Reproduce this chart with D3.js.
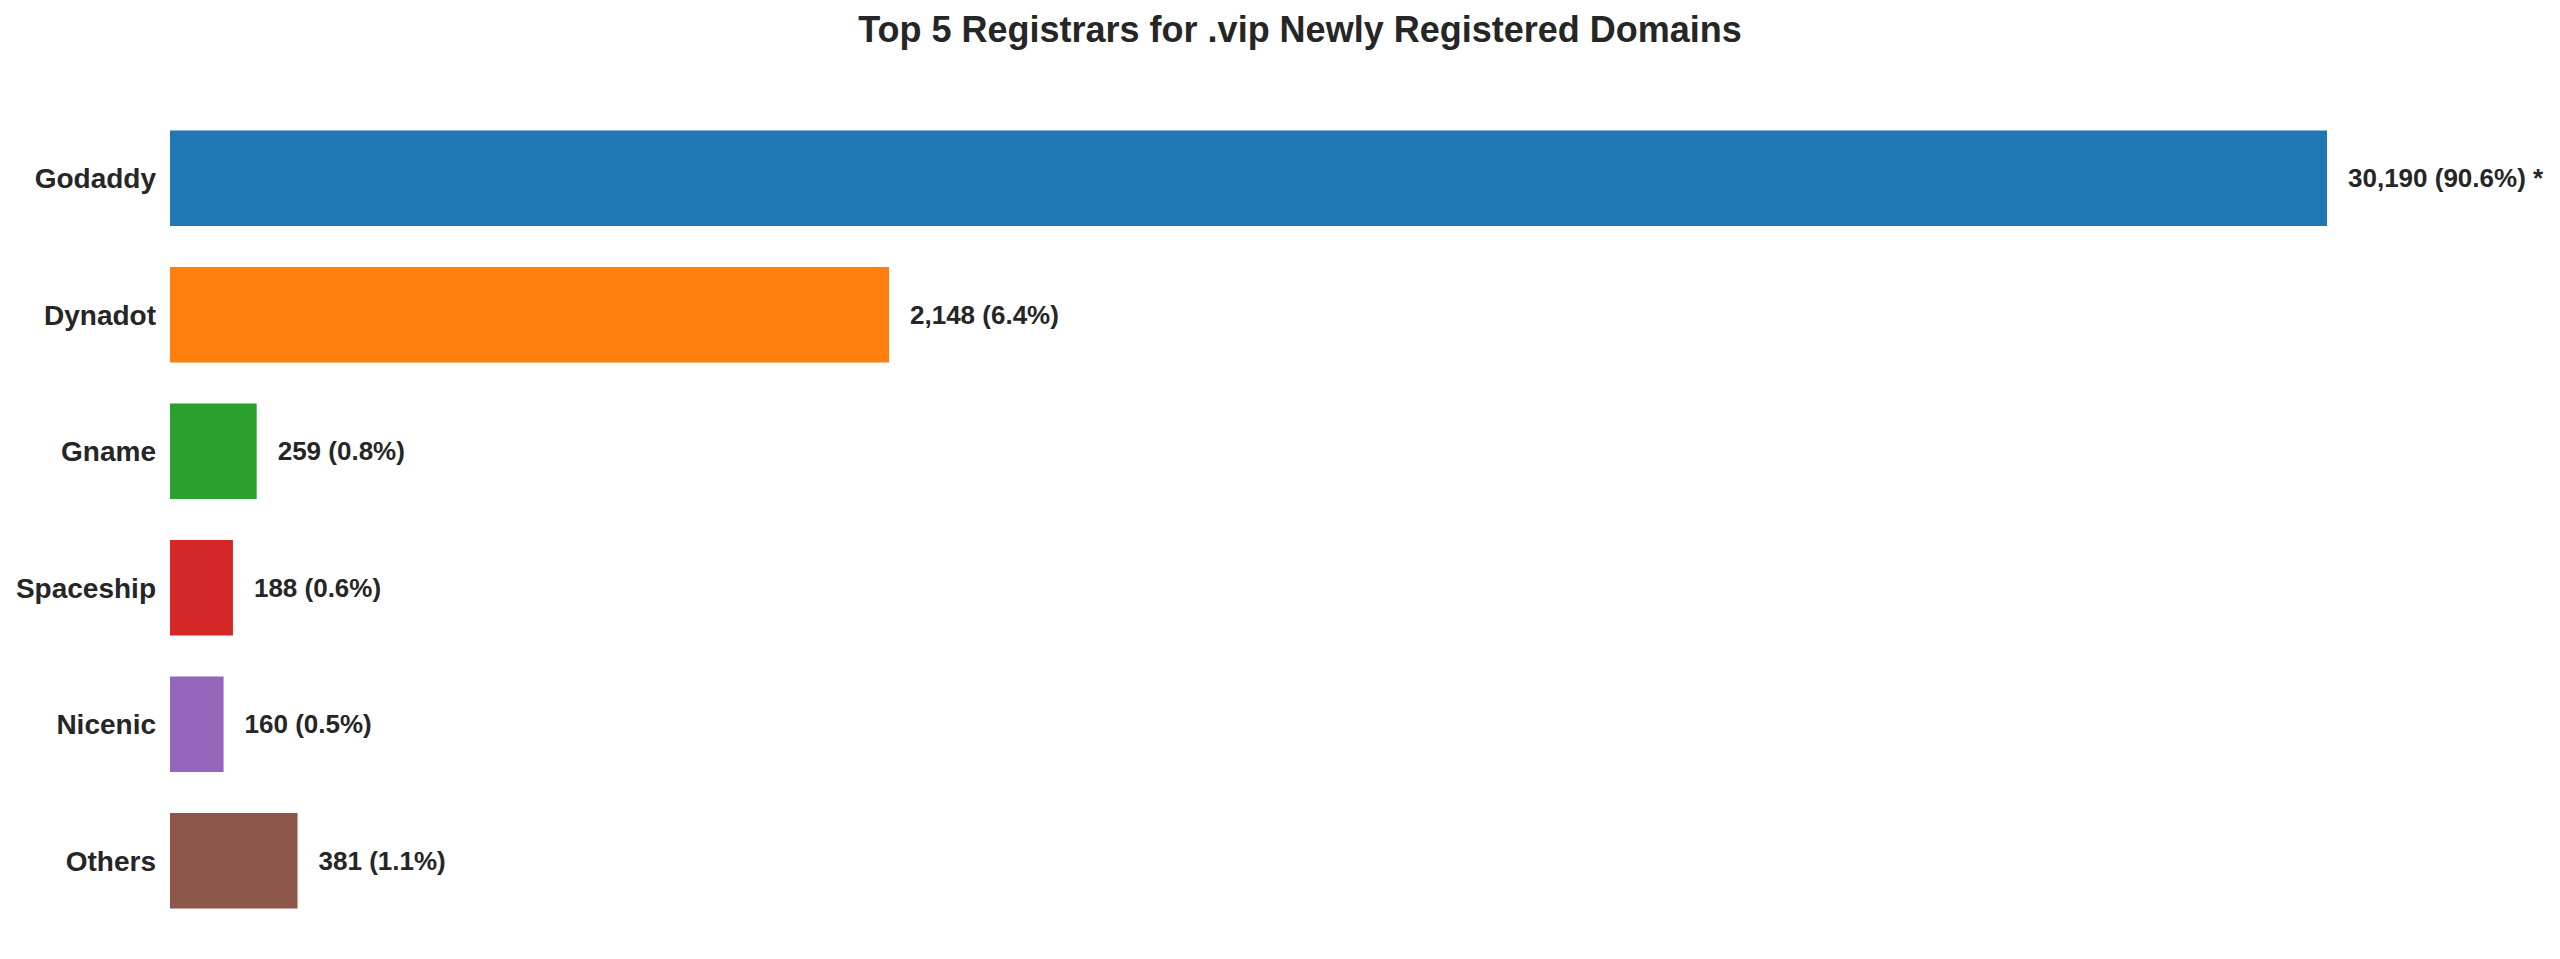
<!DOCTYPE html>
<html><head><meta charset="utf-8">
<script src="https://cdn.jsdelivr.net/npm/d3@7"></script>
<style>body{margin:0;background:#fff}text{font-family:"Liberation Sans",Arial,sans-serif;font-weight:bold;fill:#262626}</style>
</head><body><svg id="c" width="2560" height="959"></svg>
<script>
var registrars = ["Godaddy", "Dynadot", "Gname", "Spaceship", "Nicenic", "Others"];
var counts = [30190, 2148, 259, 188, 160, 381];
var shares = ["90.6%", "6.4%", "0.8%", "0.6%", "0.5%", "1.1%"];
var colors = ["#1f77b4", "#ff7f0e", "#2ca02c", "#d62728", "#9467bd", "#8c564b"];
// axis is capped at 3x the second largest value; the largest bar is clipped (marked with *)
var axisMax = 3 * counts[1];

var svg = d3.select("#c");
var x = d3.scaleLinear().domain([0, axisMax]).range([170, 2327]).clamp(true);
var y = d3.scaleBand().domain(registrars).range([110, 929]).paddingInner(0.3).paddingOuter(0.15);

svg.append("text").attr("x", 1300).attr("y", 42).attr("text-anchor", "middle")
  .style("font-size", "36px").text("Top 5 Registrars for .vip Newly Registered Domains");

var rows = svg.selectAll("g.row").data(registrars).enter().append("g").attr("class", "row");
rows.append("rect")
  .attr("x", x(0)).attr("y", function(d){return y(d)})
  .attr("height", y.bandwidth())
  .attr("width", function(d, i){return x(counts[i]) - x(0)})
  .attr("fill", function(d, i){return colors[i]});
rows.append("text")
  .attr("x", x(0) - 14).attr("y", function(d){return y(d) + y.bandwidth()/2})
  .attr("dy", "0.35em").attr("text-anchor", "end").style("font-size", "28px")
  .text(function(d){return d});
rows.append("text")
  .attr("x", function(d, i){return x(counts[i]) + 21})
  .attr("y", function(d){return y(d) + y.bandwidth()/2})
  .attr("dy", "0.35em").style("font-size", "26px")
  .text(function(d, i){return d3.format(",")(counts[i]) + " (" + shares[i] + ")" + (counts[i] > axisMax ? " *" : "")});
</script></body></html>
